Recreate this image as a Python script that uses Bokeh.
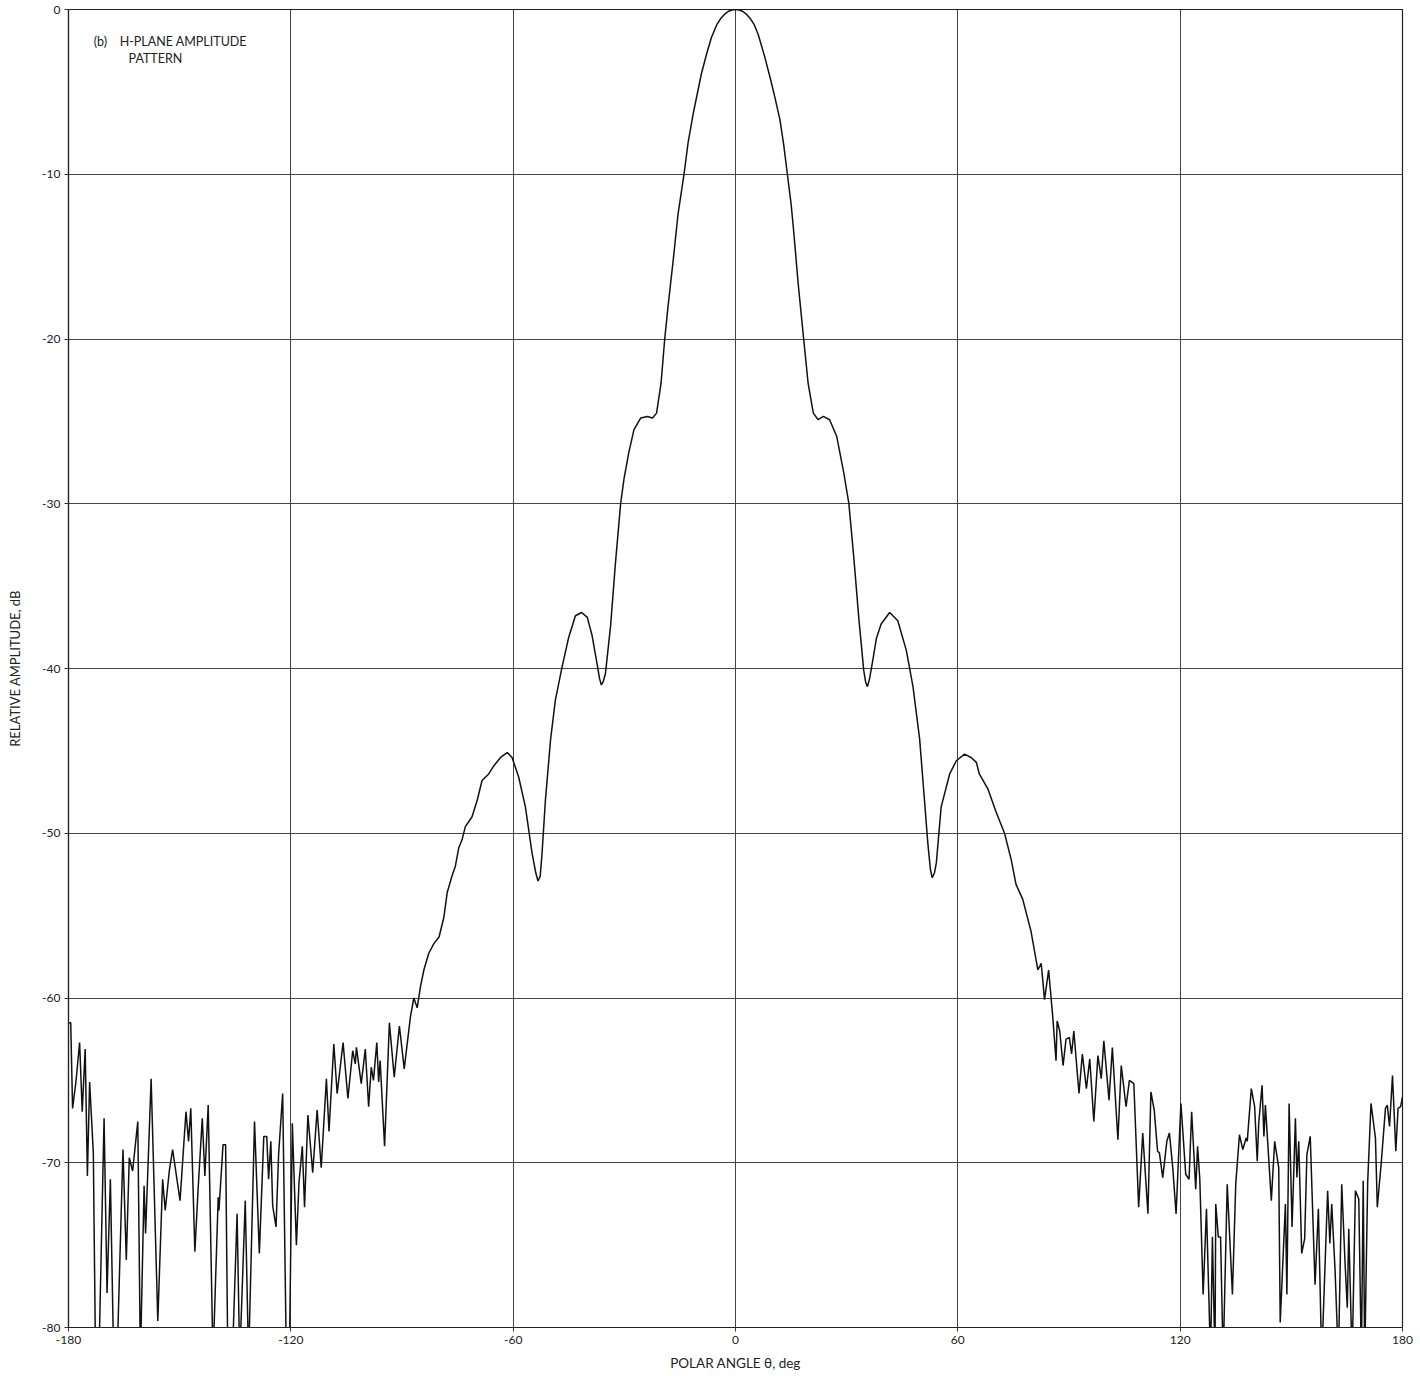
from bokeh.plotting import figure
from bokeh.models import Label, FixedTicker
from bokeh.embed import file_html
from bokeh.resources import INLINE

# ---- data (theta in degrees, relative amplitude in dB) ----
# values below -80 dB run off the bottom of the chart (clipped in the original)
theta_left = [-180.0, -179.4, -178.9, -178.0, -177.0, -176.3, -175.5, -174.9, -174.3, -173.3,
              -172.7, -171.8, -170.4, -169.6, -168.7, -167.8, -166.9, -165.3, -164.4, -163.6,
              -162.7, -161.3, -160.6, -159.6, -159.2, -157.7, -155.9, -154.6, -153.9, -152.8,
              -151.9, -149.9, -148.3, -147.6, -147.0, -145.9, -145.0, -143.9, -143.2, -142.3,
              -141.0, -139.6, -139.4, -138.3, -137.6, -137.0, -135.8, -134.5, -133.8, -132.3,
              -131.4, -129.8, -128.5, -127.3, -126.5, -126.0, -125.4, -124.9, -124.0, -123.3,
              -122.2, -121.2, -120.4, -119.6, -118.5, -117.8, -116.9, -116.3, -115.4, -114.1,
              -112.9, -111.8, -110.4, -109.7, -108.4, -107.5, -105.9, -104.6, -103.3, -102.6,
              -102.3, -101.0, -99.9, -99.0, -98.3, -97.7, -96.8, -96.3, -95.9, -94.7,
              -93.4, -92.1, -90.7, -89.4]
amp_left = [-61.5, -61.5, -66.7, -65.1, -62.7, -66.9, -63.1, -70.8, -65.1, -69.4,
            -82.0, -82.0, -67.3, -77.9, -71.0, -82.0, -82.0, -69.2, -75.9, -69.7,
            -70.5, -67.5, -82.0, -71.4, -74.3, -64.9, -79.6, -71.0, -72.9, -70.5,
            -69.2, -72.3, -66.9, -68.7, -66.7, -75.4, -71.5, -67.3, -70.8, -66.5,
            -82.0, -72.1, -72.9, -68.9, -68.9, -82.0, -82.0, -73.1, -82.0, -72.3,
            -82.0, -67.5, -75.5, -68.4, -68.4, -71.0, -68.7, -72.6, -73.9, -69.5,
            -65.8, -82.0, -82.0, -67.6, -75.0, -71.2, -69.0, -72.7, -67.1, -70.6,
            -66.8, -70.3, -64.9, -68.1, -62.8, -65.8, -62.7, -66.1, -63.2, -64.0,
            -63.0, -65.2, -63.1, -66.6, -64.2, -65.0, -62.7, -65.1, -63.8, -69.0,
            -61.5, -64.8, -61.7, -64.3]

theta_mid = [-87.7, -86.8, -85.9, -85.0, -84.1, -82.8, -81.4, -80.0, -78.7, -77.8,
             -76.5, -75.6, -74.7, -73.8, -72.9, -71.1, -69.7, -68.4, -66.6, -65.2,
             -63.4, -61.6, -60.3, -58.5, -56.7, -54.9, -53.9, -53.3, -52.7, -52.2,
             -51.3, -49.9, -48.6, -46.8, -45.0, -43.2, -41.5, -40.0, -38.7, -37.3,
             -36.7, -36.2, -35.7, -35.1, -33.7, -32.4, -31.0, -30.1, -28.8, -27.4,
             -25.6, -23.8, -22.4, -21.3, -20.1, -19.1, -18.2, -17.5, -16.8, -15.5,
             -14.7, -13.9, -12.8, -11.4, -10.3, -9.2, -7.8, -6.5, -5.0, -4.0,
             -3.0, -2.0, -1.0, 0.0, 1.0, 2.0, 3.0, 4.0, 5.0, 6.1,
             7.8, 9.3, 10.6, 12.0, 13.0, 14.0, 15.0, 15.6, 16.9, 17.6,
             18.4, 19.6, 21.0, 22.3, 23.7, 25.4, 27.3, 29.2, 30.6, 31.9,
             33.3, 34.6, 35.1, 35.6, 36.1, 36.9, 38.0, 39.3, 41.6, 43.8,
             46.1, 47.9, 49.7, 51.0, 51.9, 52.6, 53.1, 53.7, 54.2, 55.5,
             57.8, 59.6, 61.8, 63.6, 65.0, 65.8, 68.1, 70.3, 72.6, 74.4,
             75.7, 77.5, 79.7, 81.6, 82.5, 83.4, 84.5, 85.6]
amp_mid = [-61.1, -60.0, -60.6, -59.3, -58.3, -57.3, -56.7, -56.3, -55.1, -53.6,
           -52.6, -52.0, -50.9, -50.4, -49.6, -49.0, -48.0, -46.8, -46.4, -45.9,
           -45.4, -45.1, -45.4, -46.6, -48.4, -51.2, -52.4, -52.9, -52.6, -51.2,
           -48.0, -44.3, -41.9, -39.9, -38.1, -36.8, -36.6, -36.9, -38.0, -39.8,
           -40.6, -41.0, -40.8, -40.3, -37.4, -33.6, -30.0, -28.5, -26.9, -25.5,
           -24.8, -24.7, -24.8, -24.5, -22.7, -20.0, -18.0, -16.6, -15.2, -12.4,
           -11.2, -10.0, -8.1, -6.3, -5.1, -3.9, -2.7, -1.7, -0.9, -0.55,
           -0.3, -0.12, -0.03, 0.0, -0.03, -0.12, -0.3, -0.55, -0.9, -1.5,
           -2.8, -4.1, -5.3, -6.7, -8.2, -10.0, -11.8, -13.2, -16.6, -18.2,
           -20.0, -22.7, -24.5, -24.9, -24.7, -24.9, -25.9, -28.1, -30.0, -33.2,
           -37.0, -40.1, -40.8, -41.1, -40.7, -39.7, -38.2, -37.3, -36.6, -37.1,
           -38.9, -41.1, -44.3, -48.0, -50.6, -52.2, -52.7, -52.4, -51.8, -48.4,
           -46.4, -45.6, -45.2, -45.4, -45.7, -46.4, -47.3, -48.7, -50.0, -51.6,
           -53.1, -54.0, -55.9, -58.3, -57.9, -60.1, -58.3, -61.1]

theta_right = [86.5, 86.8, 87.5, 88.4, 89.2, 90.1, 90.7, 91.3, 92.7, 93.6,
               94.7, 95.6, 96.7, 97.8, 98.7, 99.4, 100.8, 101.7, 103.2, 104.1,
               105.4, 106.3, 107.5, 108.8, 109.9, 111.3, 112.1, 113.0, 113.9, 114.4,
               115.3, 116.4, 117.1, 118.0, 118.9, 120.2, 121.5, 122.4, 123.1, 124.2,
               124.7, 125.3, 126.2, 127.1, 128.2, 128.7, 129.4, 129.6, 130.3, 130.9,
               131.6, 132.7, 134.1, 135.0, 136.0, 136.9, 137.8, 138.1, 139.2, 140.1,
               140.8, 141.2, 142.1, 142.6, 143.0, 144.6, 145.5, 146.6, 147.0, 148.4,
               148.8, 149.4, 150.2, 151.1, 151.5, 152.0, 152.8, 153.6, 154.2, 155.1,
               156.4, 157.3, 158.2, 159.8, 160.4, 160.9, 161.8, 162.7, 163.6, 164.5,
               165.1, 165.5, 166.4, 167.3, 168.2, 168.9, 169.4, 169.8, 170.6, 171.5,
               172.3, 172.7, 173.2, 174.3, 175.4, 175.9, 176.5, 177.3, 178.2, 178.8,
               179.5, 180.0]
amp_right = [-63.8, -61.4, -62.0, -64.1, -62.5, -62.4, -63.4, -62.0, -65.8, -63.4,
             -65.5, -63.7, -67.5, -63.5, -64.9, -62.6, -66.2, -63.0, -68.6, -64.1,
             -66.6, -65.0, -65.2, -72.7, -68.2, -73.1, -65.7, -66.8, -69.3, -69.4,
             -70.9, -68.7, -68.2, -70.3, -73.1, -66.4, -70.7, -71.0, -66.9, -71.6,
             -69.0, -71.0, -78.0, -72.8, -82.0, -74.5, -82.0, -72.5, -74.5, -74.5,
             -82.0, -71.3, -78.0, -71.3, -68.3, -69.2, -68.5, -68.7, -65.5, -66.6,
             -69.9, -67.6, -65.3, -68.4, -66.5, -72.3, -68.7, -70.3, -79.7, -72.5,
             -78.0, -66.4, -73.9, -67.3, -70.9, -68.7, -75.5, -74.6, -69.5, -68.4,
             -77.4, -72.8, -82.0, -71.7, -74.9, -72.5, -76.5, -82.0, -71.3, -76.1,
             -78.8, -74.0, -82.0, -71.7, -72.2, -82.0, -71.1, -82.0, -71.2, -66.4,
             -67.8, -68.5, -72.7, -69.9, -66.7, -66.5, -67.8, -64.7, -69.3, -66.7,
             -66.6, -66.0]

x_ticks = [-180, -120, -60, 0, 60, 120, 180]
y_ticks = [0, -10, -20, -30, -40, -50, -60, -70, -80]

theta = theta_left + theta_mid + theta_right
amp = amp_left + amp_mid + amp_right

FONT = "Lato"
TXT = "#222222"

p = figure(width=1420, height=1376, output_backend="svg", toolbar_location=None,
           x_range=(-180, 180), y_range=(-80, 0),
           min_border_left=68, min_border_right=18, min_border_top=9, min_border_bottom=49,
           background_fill_color="white", border_fill_color="white")

p.line(theta, amp, line_color="#111111", line_width=1.5)

p.outline_line_color = "#222222"
p.outline_line_width = 1.2

for ax in (p.xaxis[0], p.yaxis[0]):
    ax.axis_line_color = "#222222"
    ax.axis_line_width = 1.2
    ax.major_tick_out = 4
    ax.major_tick_in = 0
    ax.minor_tick_out = 0
    ax.minor_tick_in = 0
    ax.major_tick_line_color = "#333333"
    ax.major_label_text_font = FONT
    ax.major_label_text_font_size = "12px"
    ax.major_label_text_color = TXT
    ax.axis_label_text_font = FONT
    ax.axis_label_text_font_style = "normal"
    ax.axis_label_text_color = TXT

p.xaxis.ticker = FixedTicker(ticks=x_ticks)
p.yaxis.ticker = FixedTicker(ticks=y_ticks)
p.xaxis.major_label_overrides = {t: str(t) for t in x_ticks}
p.yaxis.major_label_overrides = {t: str(t) for t in y_ticks}
p.xaxis.axis_label = "POLAR ANGLE θ, deg"
p.yaxis.axis_label = "RELATIVE AMPLITUDE, dB"
p.xaxis.axis_label_text_font_size = "13.5px"
p.yaxis.axis_label_text_font_size = "13px"
p.xaxis.major_label_standoff = 4
p.yaxis.major_label_standoff = 4
p.xaxis.axis_label_standoff = 8
p.yaxis.axis_label_standoff = 16

p.xgrid.ticker = FixedTicker(ticks=[-120, -60, 0, 60, 120])
p.ygrid.ticker = FixedTicker(ticks=[-10, -20, -30, -40, -50, -60, -70])
p.xgrid.grid_line_color = "#444444"
p.ygrid.grid_line_color = "#444444"
p.xgrid.grid_line_width = 1
p.ygrid.grid_line_width = 1

p.add_layout(Label(x=-173.2, y=-1.95, text="(b)", text_font=FONT,
                   text_font_size="12.5px", text_color=TXT, text_baseline="middle"))
p.add_layout(Label(x=-166.2, y=-1.95, text="H-PLANE AMPLITUDE", text_font=FONT,
                   text_font_size="12.5px", text_color=TXT, text_baseline="middle"))
p.add_layout(Label(x=-163.8, y=-2.97, text="PATTERN", text_font=FONT,
                   text_font_size="12.5px", text_color=TXT, text_baseline="middle"))

open("out.html", "w").write(file_html(p, INLINE))
